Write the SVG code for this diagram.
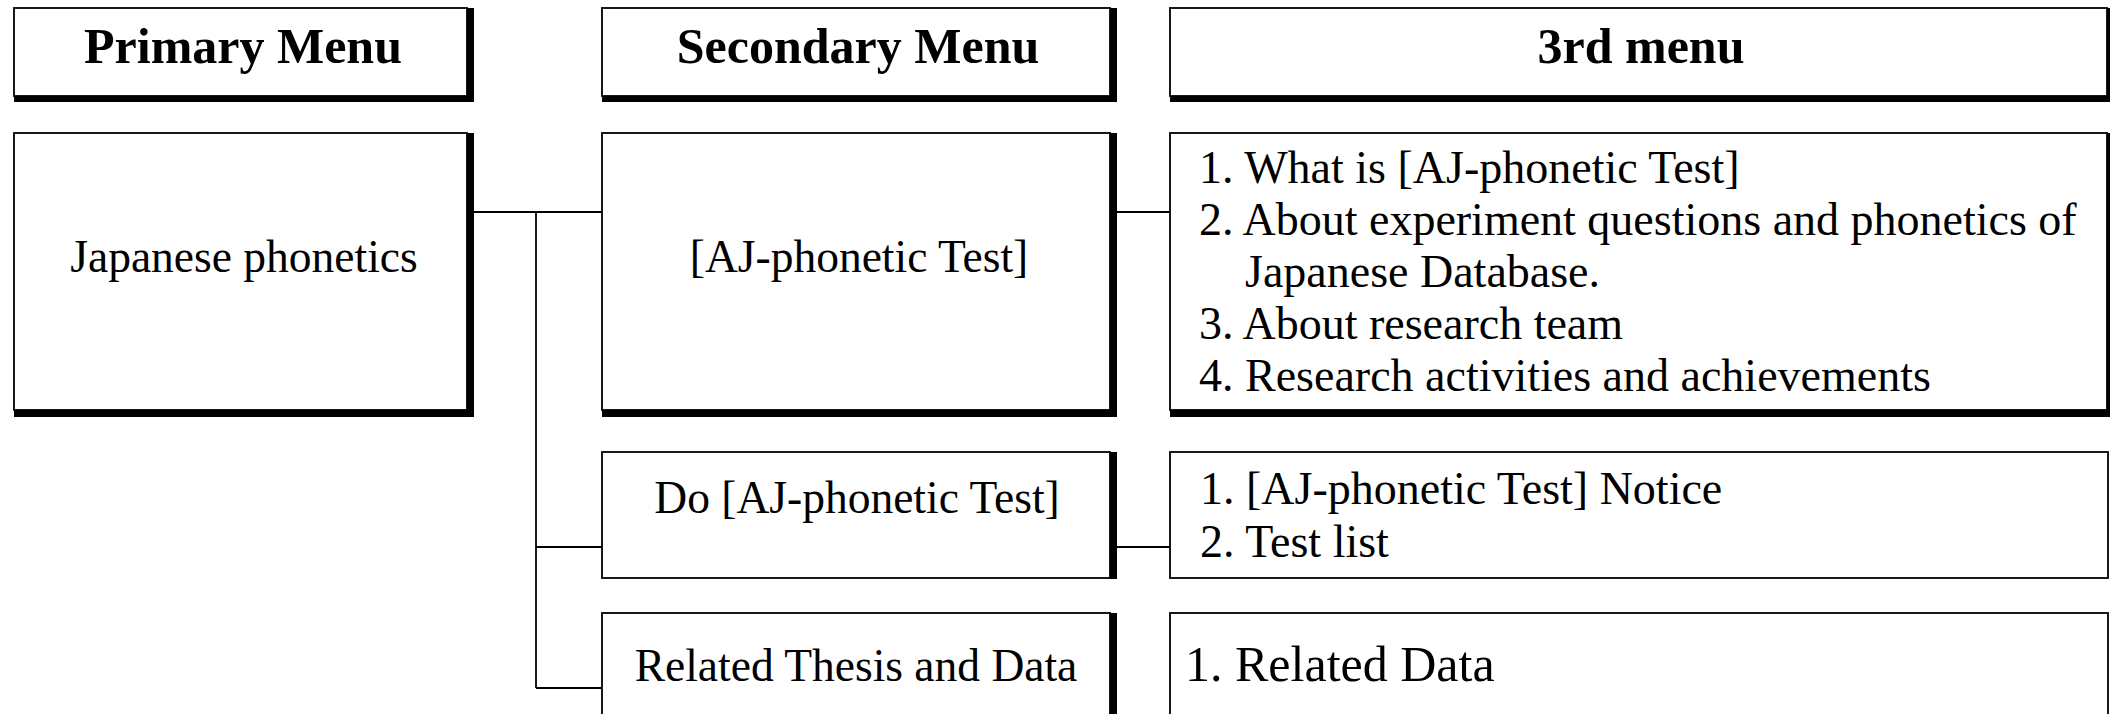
<svg xmlns="http://www.w3.org/2000/svg" width="2110" height="714" viewBox="0 0 2110 714">
  <style>
    .box { fill: #fff; stroke: #000; stroke-width: 1.8; }
    .band { fill: #000; }
    .hd { font-family: "Liberation Serif", "Times New Roman", serif; font-weight: bold; font-size: 50px; fill: #000; text-anchor: middle; }
    .lb { font-family: "Liberation Serif", "Times New Roman", serif; font-size: 45.5px; fill: #000; text-anchor: middle; }
    .li { font-family: "Liberation Serif", "Times New Roman", serif; font-size: 46px; fill: #000; }
    .conn { fill: none; stroke: #000; stroke-width: 1.8; }
  </style>
  <rect width="2110" height="714" fill="#fff"/>

  <g id="connectors">
    <path class="conn" d="M474 212 H602"/>
    <path class="conn" d="M536 212 V688"/>
    <path class="conn" d="M536 547 H602"/>
    <path class="conn" d="M536 688 H602"/>
    <path class="conn" d="M1117 212 H1170"/>
    <path class="conn" d="M1117 547 H1170"/>
  </g>

  <g id="header-primary">
    <rect class="box" x="14" y="8" width="453" height="88"/>
    <rect class="band" x="467" y="8" width="7" height="94"/>
    <rect class="band" x="14" y="96" width="460" height="6"/>
    <text class="hd" x="243" y="63">Primary Menu</text>
  </g>

  <g id="header-secondary">
    <rect class="box" x="602" y="8" width="508" height="88"/>
    <rect class="band" x="1110" y="8" width="7" height="94"/>
    <rect class="band" x="602" y="96" width="515" height="6"/>
    <text class="hd" x="858" y="63">Secondary Menu</text>
  </g>

  <g id="header-third">
    <rect class="box" x="1170" y="8" width="937" height="88"/>
    <rect class="band" x="2107" y="8" width="7" height="94"/>
    <rect class="band" x="1170" y="96" width="944" height="6"/>
    <text class="hd" x="1641" y="63">3rd menu</text>
  </g>

  <g id="node-japanese-phonetics">
    <rect class="box" x="14" y="133" width="453" height="277"/>
    <rect class="band" x="467" y="133" width="7" height="284"/>
    <rect class="band" x="14" y="410" width="460" height="7"/>
    <text class="lb" x="244" y="272">Japanese phonetics</text>
  </g>

  <g id="node-aj-test">
    <rect class="box" x="602" y="133" width="508" height="277"/>
    <rect class="band" x="1110" y="133" width="7" height="284"/>
    <rect class="band" x="602" y="410" width="515" height="7"/>
    <text class="lb" x="859" y="272">[AJ-phonetic Test]</text>
  </g>

  <g id="node-aj-test-sub">
    <rect class="box" x="1170" y="133" width="937" height="277"/>
    <rect class="band" x="2107" y="133" width="7" height="284"/>
    <rect class="band" x="1170" y="410" width="944" height="7"/>
    <text class="li" x="1199" y="183">1. What is [AJ-phonetic Test]</text>
    <text class="li" x="1199" y="235">2. About experiment questions and phonetics of</text>
    <text class="li" x="1245" y="287">Japanese Database.</text>
    <text class="li" x="1199" y="339">3. About research team</text>
    <text class="li" x="1199" y="391">4. Research activities and achievements</text>
  </g>

  <g id="node-do-test">
    <rect class="box" x="602" y="452" width="508" height="126"/>
    <rect class="band" x="1110" y="452" width="7" height="127"/>
    <text class="lb" x="857" y="513">Do [AJ-phonetic Test]</text>
  </g>

  <g id="node-do-test-sub">
    <rect class="box" x="1170" y="452" width="938" height="126"/>
    <text class="li" x="1200" y="504">1. [AJ-phonetic Test] Notice</text>
    <text class="li" x="1200" y="557">2. Test list</text>
  </g>

  <g id="node-related">
    <rect class="box" x="602" y="613" width="508" height="120"/>
    <rect class="band" x="1110" y="613" width="7" height="120"/>
    <text class="lb" x="856" y="681">Related Thesis and Data</text>
  </g>

  <g id="node-related-sub">
    <rect class="box" x="1170" y="613" width="938" height="120"/>
    <text class="li" x="1185" y="681" style="font-size:50px">1. Related Data</text>
  </g>
</svg>
